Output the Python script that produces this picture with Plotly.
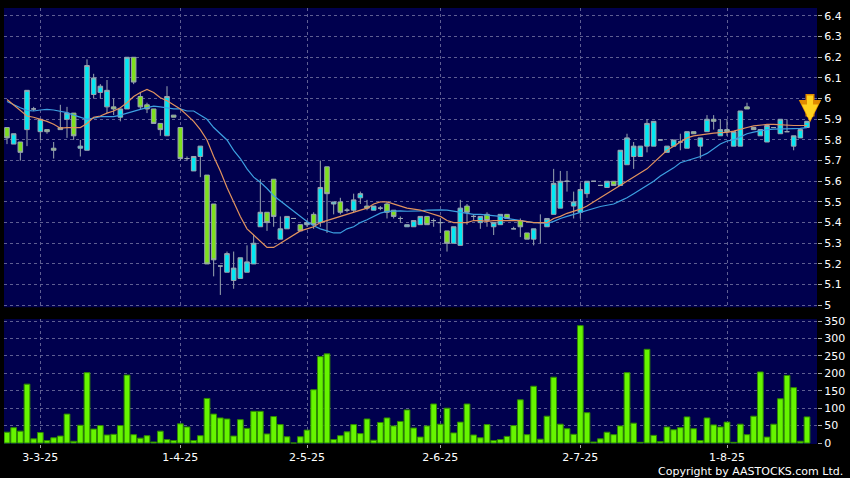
import pandas as pd
import plotly.graph_objects as go

# ---------------- data ----------------
holidays = ["2025-04-04", "2025-04-18", "2025-04-21", "2025-05-01", "2025-05-05", "2025-07-01"]
dates = [d.strftime("%Y-%m-%d") for d in pd.bdate_range("2025-02-24", "2025-08-19")
         if d.strftime("%Y-%m-%d") not in holidays]

tick_dates = ["2025-03-03", "2025-04-01", "2025-05-02", "2025-06-02", "2025-07-02", "2025-08-01"]
tick_labels = ["3-3-25", "1-4-25", "2-5-25", "2-6-25", "2-7-25", "1-8-25"]

open_ = [5.86, 5.78, 5.79, 5.85, 5.95, 5.84, 5.85, 5.76, 5.86, 5.90,
         5.93, 5.76, 5.75, 6.02, 6.03, 5.96, 5.96, 5.91, 5.95, 6.20,
         6.01, 5.97, 5.95, 5.88, 5.82, 5.92, 5.86, 5.71, 5.65, 5.72,
         5.63, 5.49, 5.19, 5.16, 5.12, 5.13, 5.16, 5.20, 5.38, 5.45,
         5.61, 5.32, 5.37, 5.42, 5.39, 5.39, 5.44, 5.40, 5.67, 5.49,
         5.50, 5.46, 5.46, 5.52, 5.48, 5.46, 5.47, 5.49, 5.46, 5.42,
         5.38, 5.38, 5.39, 5.43, 5.41, 5.40, 5.36, 5.30, 5.29, 5.48,
         5.43, 5.40, 5.44, 5.38, 5.39, 5.44, 5.37, 5.41, 5.35, 5.32,
         5.40, 5.38, 5.44, 5.47, 5.60, 5.48, 5.45, 5.54, 5.60, 5.58,
         5.57, 5.60, 5.58, 5.68, 5.72, 5.72, 5.77, 5.77, 5.80, 5.74,
         5.77, 5.79, 5.76, 5.84, 5.77, 5.84, 5.90, 5.82, 5.85, 5.77,
         5.77, 5.96, 5.86, 5.82, 5.79, 5.86, 5.83, 5.84, 5.77, 5.81,
         5.86]
high = [5.86, 5.83, 5.79, 6.04, 5.96, 5.90, 5.85, 5.79, 5.97, 5.96,
        5.93, 5.80, 6.19, 6.12, 6.07, 6.09, 6.00, 5.95, 6.20, 6.20,
        6.03, 5.98, 5.95, 5.88, 6.06, 5.92, 5.86, 5.72, 5.72, 5.77,
        5.63, 5.49, 5.19, 5.26, 5.26, 5.23, 5.29, 5.34, 5.61, 5.45,
        5.61, 5.43, 5.43, 5.42, 5.39, 5.41, 5.45, 5.70, 5.67, 5.50,
        5.52, 5.47, 5.54, 5.55, 5.51, 5.48, 5.48, 5.50, 5.46, 5.43,
        5.39, 5.41, 5.43, 5.43, 5.42, 5.42, 5.36, 5.38, 5.51, 5.49,
        5.44, 5.43, 5.45, 5.40, 5.44, 5.44, 5.38, 5.42, 5.35, 5.37,
        5.44, 5.42, 5.66, 5.65, 5.65, 5.55, 5.59, 5.60, 5.60, 5.58,
        5.60, 5.60, 5.75, 5.83, 5.79, 5.77, 5.90, 5.89, 5.80, 5.77,
        5.80, 5.83, 5.84, 5.84, 5.81, 5.92, 5.92, 5.90, 5.90, 5.84,
        5.94, 5.98, 5.86, 5.85, 5.87, 5.86, 5.90, 5.90, 5.82, 5.85,
        5.89]
low = [5.78, 5.78, 5.70, 5.77, 5.94, 5.80, 5.83, 5.71, 5.85, 5.81,
       5.80, 5.72, 5.75, 6.00, 6.00, 5.93, 5.92, 5.89, 5.95, 6.07,
       5.95, 5.93, 5.88, 5.82, 5.82, 5.91, 5.70, 5.70, 5.65, 5.62,
       5.20, 5.14, 5.05, 5.16, 5.08, 5.13, 5.16, 5.20, 5.38, 5.36,
       5.38, 5.32, 5.37, 5.42, 5.36, 5.38, 5.37, 5.38, 5.35, 5.44,
       5.44, 5.45, 5.45, 5.49, 5.46, 5.46, 5.46, 5.42, 5.42, 5.40,
       5.38, 5.38, 5.39, 5.39, 5.38, 5.35, 5.26, 5.30, 5.29, 5.39,
       5.41, 5.37, 5.38, 5.34, 5.39, 5.42, 5.37, 5.33, 5.32, 5.29,
       5.30, 5.38, 5.44, 5.47, 5.55, 5.42, 5.42, 5.52, 5.60, 5.58,
       5.57, 5.58, 5.58, 5.68, 5.66, 5.72, 5.74, 5.77, 5.80, 5.74,
       5.77, 5.75, 5.76, 5.83, 5.71, 5.84, 5.85, 5.82, 5.82, 5.77,
       5.77, 5.95, 5.85, 5.82, 5.79, 5.86, 5.83, 5.84, 5.75, 5.81,
       5.86]
close = [5.81, 5.83, 5.74, 6.04, 5.95, 5.90, 5.84, 5.75, 5.85, 5.93,
         5.82, 5.77, 6.16, 6.10, 6.06, 6.04, 5.95, 5.95, 6.20, 6.08,
         5.96, 5.95, 5.88, 5.85, 6.01, 5.91, 5.71, 5.71, 5.72, 5.77,
         5.20, 5.22, 5.19, 5.25, 5.18, 5.23, 5.21, 5.30, 5.45, 5.40,
         5.43, 5.37, 5.43, 5.42, 5.36, 5.40, 5.39, 5.57, 5.54, 5.50,
         5.45, 5.46, 5.51, 5.54, 5.47, 5.48, 5.47, 5.45, 5.43, 5.42,
         5.39, 5.41, 5.43, 5.39, 5.41, 5.40, 5.30, 5.38, 5.47, 5.45,
         5.43, 5.43, 5.41, 5.40, 5.44, 5.42, 5.37, 5.38, 5.32, 5.37,
         5.40, 5.42, 5.59, 5.60, 5.60, 5.50, 5.56, 5.60, 5.60, 5.58,
         5.60, 5.58, 5.75, 5.81, 5.77, 5.77, 5.88, 5.89, 5.80, 5.77,
         5.80, 5.79, 5.84, 5.83, 5.81, 5.90, 5.89, 5.85, 5.84, 5.84,
         5.94, 5.95, 5.85, 5.85, 5.87, 5.86, 5.90, 5.84, 5.82, 5.85,
         5.89]

ma_short = [5.996, 5.97, 5.94, 5.916, 5.91, 5.90, 5.89, 5.876, 5.857, 5.86, 5.86, 5.86,
            5.88, 5.91, 5.916, 5.93, 5.94, 5.956, 5.98, 6.01, 6.03, 6.044, 6.03, 6.004,
            5.99, 5.97, 5.95, 5.92, 5.89, 5.85, 5.80, 5.72,
            5.65, 5.57, 5.50, 5.43, 5.37, 5.34, 5.31, 5.28, 5.28, 5.30, 5.32, 5.34,
            5.36, 5.37, 5.38, 5.40, 5.41, 5.42, 5.43, 5.44, 5.45, 5.46, 5.47, 5.49, 5.50,
            5.50, 5.49, 5.48, 5.47, 5.465, 5.46, 5.45, 5.44, 5.43, 5.41, 5.40, 5.40, 5.40,
            5.41, 5.41, 5.406, 5.41,
            5.41, 5.41, 5.41, 5.41, 5.405, 5.40, 5.40, 5.40, 5.42, 5.43, 5.445, 5.455,
            5.465, 5.48, 5.50, 5.52, 5.54, 5.56, 5.58, 5.60, 5.62, 5.64, 5.66, 5.69, 5.72,
            5.75, 5.77, 5.79, 5.81, 5.82, 5.825, 5.83, 5.833, 5.835, 5.837, 5.843, 5.85,
            5.86, 5.868, 5.872, 5.875, 5.875, 5.873, 5.87, 5.87, 5.87, 5.87]
ma_long = [5.986, 5.97, 5.956, 5.943, 5.94, 5.945, 5.948, 5.945, 5.94, 5.932, 5.92, 5.91,
           5.90, 5.906, 5.913, 5.913, 5.913, 5.92, 5.93, 5.94, 5.948, 5.956, 5.964, 5.96,
           5.956, 5.95, 5.95, 5.94, 5.94, 5.92, 5.90, 5.86, 5.83, 5.80, 5.75, 5.71, 5.66,
           5.62, 5.595, 5.565, 5.53, 5.505, 5.48, 5.455, 5.43, 5.405, 5.385, 5.37, 5.36,
           5.35, 5.35, 5.37, 5.38, 5.40, 5.414, 5.43, 5.446,
           5.454, 5.457, 5.457, 5.455, 5.455, 5.457, 5.46, 5.462, 5.462, 5.46, 5.455,
           5.45, 5.445, 5.44, 5.44, 5.437, 5.435,
           5.43, 5.42, 5.415, 5.41, 5.406, 5.40, 5.40, 5.395, 5.406, 5.42, 5.43, 5.44,
           5.45, 5.46, 5.47, 5.478, 5.484, 5.49, 5.505, 5.52, 5.54, 5.56, 5.58, 5.60, 5.625,
           5.645, 5.665, 5.69, 5.70, 5.712, 5.72, 5.735, 5.757, 5.78, 5.795, 5.80, 5.815,
           5.83, 5.838, 5.845, 5.85, 5.852, 5.854, 5.855, 5.855, 5.856, 5.86]

volume = [31, 44, 34, 169, 12, 30, 7, 15, 20, 83, 5, 51, 202, 40, 50, 23, 25, 50, 195, 24,
          14, 21, 3, 34, 10, 7, 55, 46, 7, 21, 128, 83, 72, 69, 20, 67, 42, 91, 91, 26,
          76, 53, 18, 0, 18, 37, 153, 248, 256, 10, 21, 32, 53, 27, 69, 8, 59, 72, 49, 62,
          95, 43, 17, 49, 112, 54, 100, 29, 60, 112, 23, 15, 53, 7, 10, 19, 50, 124, 24, 163,
          11, 77, 189, 54, 41, 25, 337, 87, 3, 12, 31, 24, 49, 202, 57, 2, 269, 22, 4, 46,
          38, 44, 75, 41, 7, 72, 52, 46, 60, 2, 54, 24, 77, 204, 17, 54, 127, 194, 159, 5,
          75]

# ---------------- styling ----------------
NAVY = "#00004E"
GRID = "#5E5E92"
FONT = "DejaVu Sans"

fig = go.Figure()

fig.add_trace(go.Candlestick(
    x=dates, open=open_, high=high, low=low, close=close,
    xaxis="x", yaxis="y",
    increasing=dict(line=dict(color="#9AA6B0", width=1), fillcolor="#00E8F4"),
    decreasing=dict(line=dict(color="#9AA6B0", width=1), fillcolor="#7EE01E"),
    whiskerwidth=0, showlegend=False, hoverinfo="skip",
))
fig.add_trace(go.Scatter(x=dates, y=ma_long, mode="lines", xaxis="x", yaxis="y",
                         line=dict(color="#3C9FE0", width=1.2), showlegend=False, hoverinfo="skip"))
fig.add_trace(go.Scatter(x=dates, y=ma_short, mode="lines", xaxis="x", yaxis="y",
                         line=dict(color="#E0925E", width=1.2), showlegend=False, hoverinfo="skip"))
fig.add_trace(go.Bar(x=dates, y=volume, xaxis="x", yaxis="y2", width=0.86,
                     marker=dict(color="#66F500", line=dict(color="#2F8A00", width=1)),
                     showlegend=False, hoverinfo="skip"))

# marker arrow above the latest candle (outline + fill)
fig.add_annotation(x=dates[-1], y=5.885, xref="x", yref="y", text="",
                   showarrow=True, ax=0, ay=-30, xshift=3,
                   arrowcolor="#E08A00", arrowwidth=9, arrowhead=2, arrowsize=0.5)
fig.add_annotation(x=dates[-1], y=5.892, xref="x", yref="y", text="",
                   showarrow=True, ax=0, ay=-27, xshift=3,
                   arrowcolor="#FFD21E", arrowwidth=6, arrowhead=2, arrowsize=0.55)

fig.add_annotation(x=1.0344, y=-0.062, xref="paper", yref="paper",
                   text="Copyright by AASTOCKS.com Ltd.", showarrow=False,
                   xanchor="right", yanchor="middle",
                   font=dict(family=FONT, size=11, color="#FFFFFF"))

fig.update_layout(
    width=850, height=478,
    margin=dict(l=4, r=33, t=4, b=34),
    paper_bgcolor="#000000", plot_bgcolor=NAVY,
    font=dict(family=FONT, size=11, color="#FFFFFF"),
    boxgap=0.02, bargap=0.1,
    showlegend=False,
    xaxis=dict(
        type="category", anchor="y2", domain=[0, 1],
        range=[-0.45, 121.5],
        tickmode="array", tickvals=tick_dates, ticktext=tick_labels,
        showgrid=True, gridcolor=GRID, gridwidth=1, griddash="3px,3px",
        ticks="outside", ticklen=3, tickcolor="#AAAAAA",
        tickfont=dict(family=FONT, size=11, color="#FFFFFF"),
        showline=False, zeroline=False,
        rangeslider=dict(visible=False),
    ),
    yaxis=dict(
        domain=[0.3136, 1], anchor="x", side="right",
        range=[4.9904, 6.4384], tick0=5, dtick=0.1,
        showgrid=True, gridcolor=GRID, gridwidth=1, griddash="3px,3px",
        ticks="outside", ticklen=4, tickcolor="#AAAAAA",
        tickfont=dict(family=FONT, size=11, color="#FFFFFF"),
        showline=False, zeroline=False,
    ),
    yaxis2=dict(
        domain=[0, 0.2864], anchor="x", side="right",
        range=[-2.85, 355.7], tick0=0, dtick=50,
        showgrid=True, gridcolor=GRID, gridwidth=1, griddash="3px,3px",
        ticks="outside", ticklen=4, tickcolor="#AAAAAA",
        tickfont=dict(family=FONT, size=11, color="#FFFFFF"),
        showline=False, zeroline=False,
    ),
)

fig.write_html(
    "out.html",
    config={"displayModeBar": False},
    post_script="document.body.style.margin='0';document.body.style.padding='0';"
                "document.body.style.background='#000';",
)
